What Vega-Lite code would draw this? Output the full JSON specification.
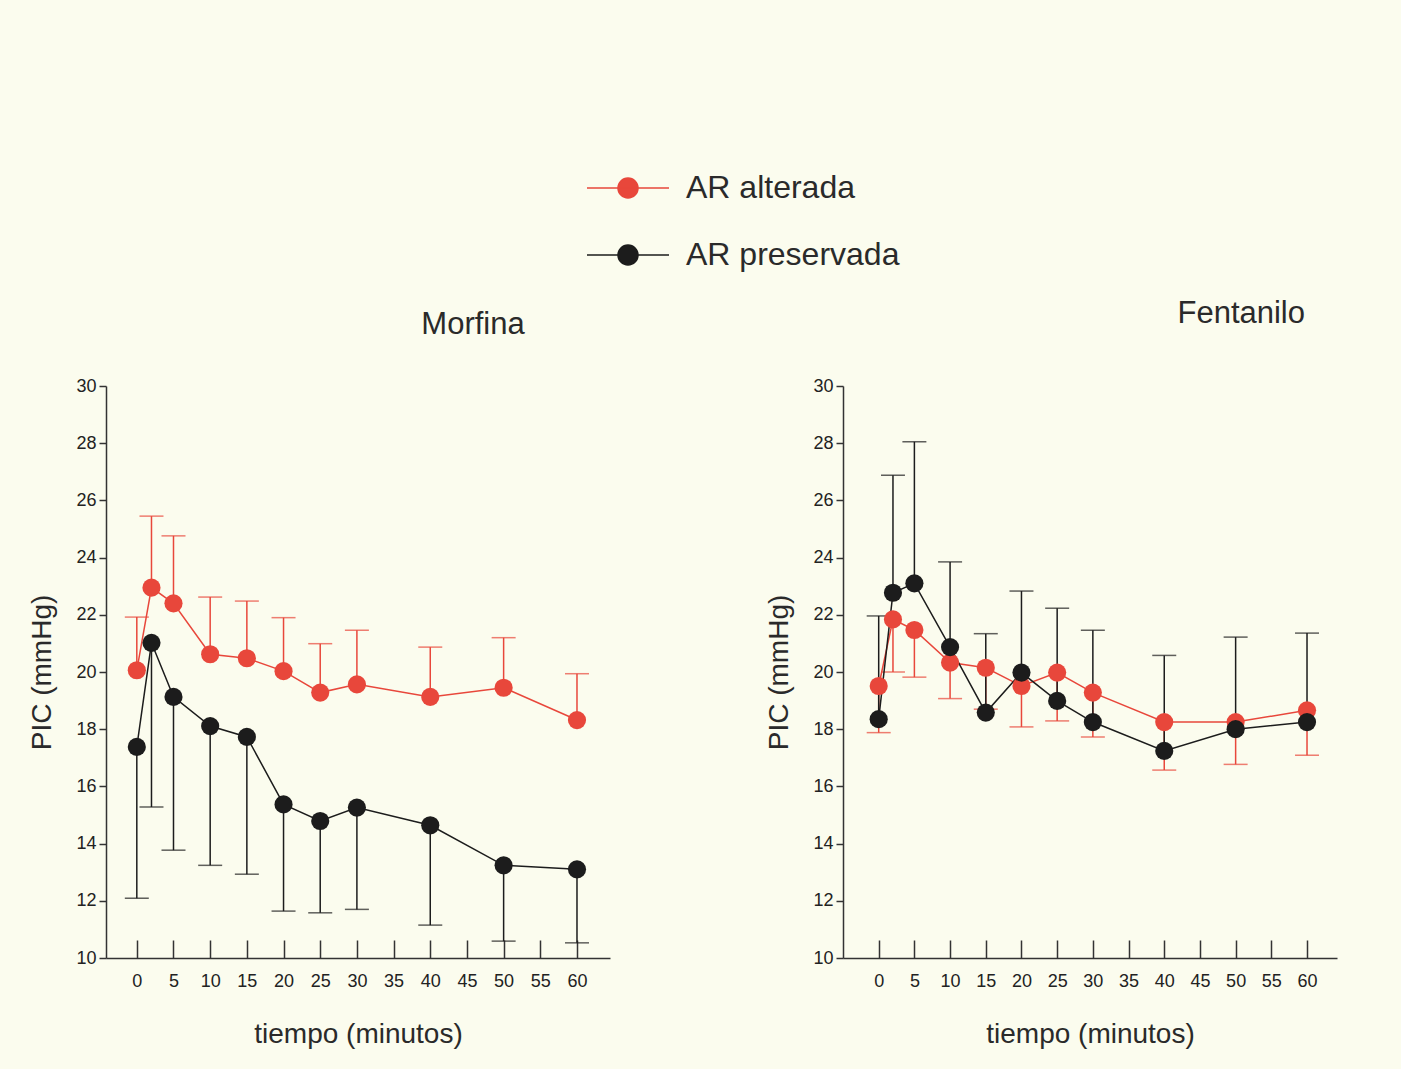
{
  "$schema": "https://vega.github.io/schema/vega-lite/v6.json",
  "background": "#fbfcee",
  "padding": {"left": 28, "top": 146, "right": 66, "bottom": 21},
  "config": {
    "view": {"stroke": null},
    "font": "Liberation Sans",
    "axis": {"labelFont": "Liberation Sans", "titleFont": "Liberation Sans", "labelColor": "#222222", "titleColor": "#2a2a2a", "domainColor": "#333333", "tickColor": "#333333", "grid": false, "titleFontWeight": "normal"},
    "title": {"font": "Liberation Sans", "fontWeight": "normal", "color": "#2a2a2a", "fontSize": 31}
  },
  "datasets": {
    "pic": [
      {"p": "Morfina", "g": "AR alterada", "t": 0, "v": 20.06, "e": 21.92},
      {"p": "Morfina", "g": "AR alterada", "t": 2, "v": 22.95, "e": 25.45},
      {"p": "Morfina", "g": "AR alterada", "t": 5, "v": 22.40, "e": 24.76},
      {"p": "Morfina", "g": "AR alterada", "t": 10, "v": 20.62, "e": 22.62},
      {"p": "Morfina", "g": "AR alterada", "t": 15, "v": 20.48, "e": 22.48},
      {"p": "Morfina", "g": "AR alterada", "t": 20, "v": 20.03, "e": 21.90},
      {"p": "Morfina", "g": "AR alterada", "t": 25, "v": 19.28, "e": 20.99},
      {"p": "Morfina", "g": "AR alterada", "t": 30, "v": 19.57, "e": 21.46},
      {"p": "Morfina", "g": "AR alterada", "t": 40, "v": 19.13, "e": 20.87},
      {"p": "Morfina", "g": "AR alterada", "t": 50, "v": 19.45, "e": 21.20},
      {"p": "Morfina", "g": "AR alterada", "t": 60, "v": 18.32, "e": 19.94},
      {"p": "Morfina", "g": "AR preservada", "t": 0, "v": 17.38, "e": 12.09},
      {"p": "Morfina", "g": "AR preservada", "t": 2, "v": 21.02, "e": 15.28},
      {"p": "Morfina", "g": "AR preservada", "t": 5, "v": 19.13, "e": 13.77},
      {"p": "Morfina", "g": "AR preservada", "t": 10, "v": 18.11, "e": 13.24},
      {"p": "Morfina", "g": "AR preservada", "t": 15, "v": 17.73, "e": 12.93},
      {"p": "Morfina", "g": "AR preservada", "t": 20, "v": 15.37, "e": 11.64},
      {"p": "Morfina", "g": "AR preservada", "t": 25, "v": 14.79, "e": 11.58},
      {"p": "Morfina", "g": "AR preservada", "t": 30, "v": 15.26, "e": 11.70},
      {"p": "Morfina", "g": "AR preservada", "t": 40, "v": 14.64, "e": 11.15},
      {"p": "Morfina", "g": "AR preservada", "t": 50, "v": 13.24, "e": 10.59},
      {"p": "Morfina", "g": "AR preservada", "t": 60, "v": 13.10, "e": 10.53},
      {"p": "Fentanilo", "g": "AR alterada", "t": 0, "v": 19.51, "e": 17.88},
      {"p": "Fentanilo", "g": "AR alterada", "t": 2, "v": 21.84, "e": 20.00},
      {"p": "Fentanilo", "g": "AR alterada", "t": 5, "v": 21.47, "e": 19.82},
      {"p": "Fentanilo", "g": "AR alterada", "t": 10, "v": 20.33, "e": 19.07},
      {"p": "Fentanilo", "g": "AR alterada", "t": 15, "v": 20.15, "e": 18.70},
      {"p": "Fentanilo", "g": "AR alterada", "t": 20, "v": 19.51, "e": 18.08},
      {"p": "Fentanilo", "g": "AR alterada", "t": 25, "v": 19.98, "e": 18.29},
      {"p": "Fentanilo", "g": "AR alterada", "t": 30, "v": 19.28, "e": 17.73},
      {"p": "Fentanilo", "g": "AR alterada", "t": 40, "v": 18.25, "e": 16.57},
      {"p": "Fentanilo", "g": "AR alterada", "t": 50, "v": 18.25, "e": 16.77},
      {"p": "Fentanilo", "g": "AR alterada", "t": 60, "v": 18.66, "e": 17.09},
      {"p": "Fentanilo", "g": "AR preservada", "t": 0, "v": 18.35, "e": 21.96},
      {"p": "Fentanilo", "g": "AR preservada", "t": 2, "v": 22.77, "e": 26.88},
      {"p": "Fentanilo", "g": "AR preservada", "t": 5, "v": 23.10, "e": 28.05},
      {"p": "Fentanilo", "g": "AR preservada", "t": 10, "v": 20.87, "e": 23.85},
      {"p": "Fentanilo", "g": "AR preservada", "t": 15, "v": 18.58, "e": 21.34},
      {"p": "Fentanilo", "g": "AR preservada", "t": 20, "v": 19.98, "e": 22.83},
      {"p": "Fentanilo", "g": "AR preservada", "t": 25, "v": 18.99, "e": 22.23},
      {"p": "Fentanilo", "g": "AR preservada", "t": 30, "v": 18.25, "e": 21.46},
      {"p": "Fentanilo", "g": "AR preservada", "t": 40, "v": 17.24, "e": 20.58},
      {"p": "Fentanilo", "g": "AR preservada", "t": 50, "v": 18.00, "e": 21.22},
      {"p": "Fentanilo", "g": "AR preservada", "t": 60, "v": 18.25, "e": 21.36}
    ]
  },
  "data": {"name": "pic"},
  "spacing": 155,
  "hconcat": [
    {
      "width": 504,
      "height": 572,
      "title": {"text": "Morfina", "anchor": "middle", "dx": 115, "offset": 36},
      "transform": [{"filter": "datum.p == 'Morfina'"}],
      "encoding": {
        "x": {"field": "t", "type": "quantitative", "scale": {"domain": [-4.2, 64.5], "nice": false, "zero": false},
              "axis": {"title": "tiempo (minutos)", "values": [0,5,10,15,20,25,30,35,40,45,50,55,60], "tickSize": -18, "labelPadding": 32, "labelFontSize": 18, "titleFontSize": 28, "titlePadding": 30, "domainWidth": 1.5, "tickWidth": 1.5}},
        "y": {"field": "v", "type": "quantitative", "scale": {"domain": [10, 30], "nice": false, "zero": false},
              "axis": {"title": "PIC (mmHg)", "values": [10,12,14,16,18,20,22,24,26,28,30], "tickSize": 7, "labelPadding": 3, "labelFontSize": 18, "titleFontSize": 28, "titlePadding": 19, "domainWidth": 1.5, "tickWidth": 1.5}},
        "color": {"field": "g", "type": "nominal", "scale": {"domain": ["AR alterada", "AR preservada"], "range": ["#e8473b", "#1c1c1c"]},
                  "legend": {"title": null, "orient": "none", "legendX": 480, "legendY": -240, "labelFontSize": 32, "labelFont": "Liberation Sans", "labelColor": "#2a2a2a", "labelOffset": 16, "labelLimit": 500, "rowPadding": 9,
                             "symbolType": "M-1,0H1M-0.244,0A0.244,0.244,0,1,0,0.244,0A0.244,0.244,0,1,0,-0.244,0Z", "symbolSize": 6724, "symbolStrokeWidth": 1.5, "symbolOpacity": 1,
                             "encode": {"symbols": {"update": {"opacity": {"value": 1}, "fillOpacity": {"value": 1}, "strokeOpacity": {"value": 1}}}}}}
      },
      "layer": [
        {"mark": {"type": "rule", "strokeWidth": 1.5}, "encoding": {"y2": {"field": "e"}}},
        {"mark": {"type": "tick", "orient": "horizontal", "size": 24, "thickness": 1.5}, "encoding": {"y": {"field": "e", "type": "quantitative"}}},
        {"mark": {"type": "line", "strokeWidth": 1.5}},
        {"mark": {"type": "point", "filled": true, "size": 330, "opacity": 1}}
      ]
    },
    {
      "width": 494,
      "height": 572,
      "title": {"text": "Fentanilo", "anchor": "end", "dx": -32, "offset": 47},
      "transform": [{"filter": "datum.p == 'Fentanilo'"}],
      "encoding": {
        "x": {"field": "t", "type": "quantitative", "scale": {"domain": [-5, 64.2], "nice": false, "zero": false},
              "axis": {"title": "tiempo (minutos)", "values": [0,5,10,15,20,25,30,35,40,45,50,55,60], "tickSize": -18, "labelPadding": 32, "labelFontSize": 18, "titleFontSize": 28, "titlePadding": 30, "domainWidth": 1.5, "tickWidth": 1.5}},
        "y": {"field": "v", "type": "quantitative", "scale": {"domain": [10, 30], "nice": false, "zero": false},
              "axis": {"title": "PIC (mmHg)", "values": [10,12,14,16,18,20,22,24,26,28,30], "tickSize": 7, "labelPadding": 3, "labelFontSize": 18, "titleFontSize": 28, "titlePadding": 19, "domainWidth": 1.5, "tickWidth": 1.5}},
        "color": {"field": "g", "type": "nominal", "scale": {"domain": ["AR alterada", "AR preservada"], "range": ["#e8473b", "#1c1c1c"]}}
      },
      "layer": [
        {"mark": {"type": "rule", "strokeWidth": 1.5}, "encoding": {"y2": {"field": "e"}}},
        {"mark": {"type": "tick", "orient": "horizontal", "size": 24, "thickness": 1.5}, "encoding": {"y": {"field": "e", "type": "quantitative"}}},
        {"mark": {"type": "line", "strokeWidth": 1.5}},
        {"mark": {"type": "point", "filled": true, "size": 330, "opacity": 1}}
      ]
    }
  ]
}
